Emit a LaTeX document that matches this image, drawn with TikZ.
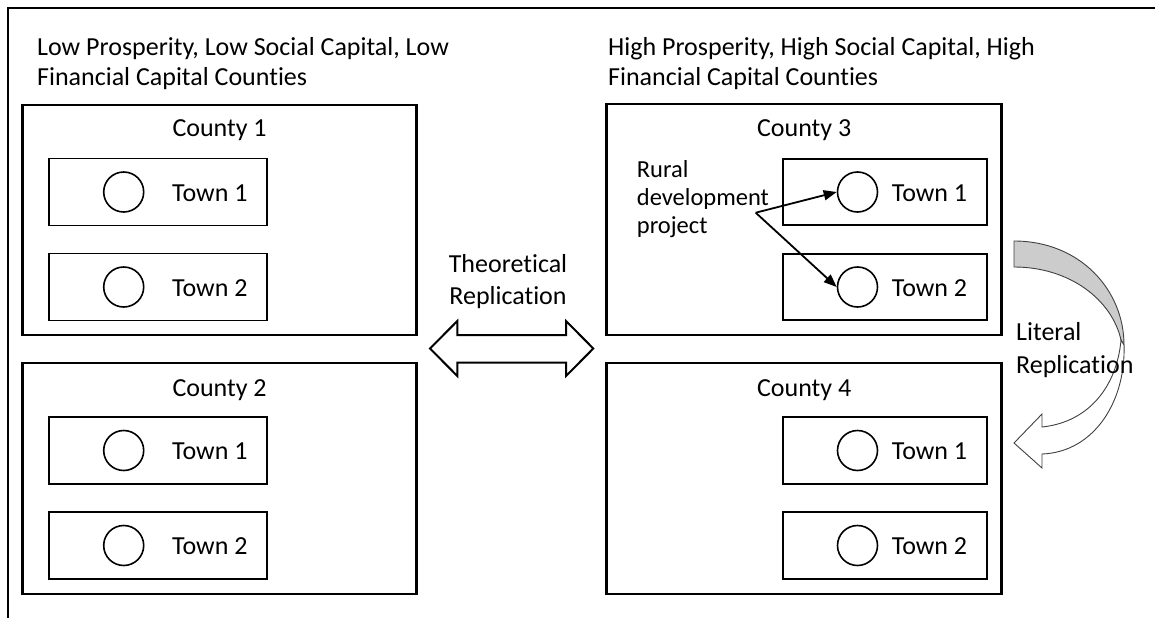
\documentclass[tikz,border=0pt]{standalone}
\usepackage{fontspec}
\setmainfont{Carlito}[Ligatures={NoCommon}]
\usetikzlibrary{arrows.meta}
% multi-line text blocks whose base is the first line's baseline
\newcommand{\tlines}[1]{\begin{tabular}[t]{@{}l@{}}#1\end{tabular}}
\newcommand{\clines}[1]{\begin{tabular}[t]{@{}c@{}}#1\end{tabular}}
\begin{document}
\begin{tikzpicture}[x=1pt,y=-1pt,
  txt/.style={inner sep=0pt, font=\fontsize{26}{30}\selectfont},
  county/.style={draw, line width=2.6pt, minimum width=394pt, inner sep=0pt},
  townbox/.style={draw, line width=1.8pt, inner sep=0pt},
  spot/.style={draw, circle, line width=1.6pt, minimum size=40pt, inner sep=0pt},
  conn/.style={line width=1.8pt, -{Triangle[length=13pt,width=10pt]}},
  bigarrow/.style={line width=2pt, fill=white, line join=miter},
  curl/.style={line width=0.9pt, draw=black!75}
]
\useasboundingbox (0,0) rectangle (1155,618);

% outer frame (top and left sides)
\draw[line width=2pt] (1155,8) -- (8,8) -- (8,618);

% group headings
\node[txt, anchor=base west] (lowhead) at (37,56)
  {\tlines{Low Prosperity, Low Social Capital, Low\\Financial Capital Counties}};
\node[txt, anchor=base west] (highhead) at (608,56)
  {\tlines{High Prosperity, High Social Capital, High\\Financial Capital Counties}};

% ---- County 1
\node[county, minimum height=230pt] (c1) at (219.6,220) {};
\node[txt, anchor=base] (c1l) at (219.6,136.7) {County 1};
\node[townbox, minimum width=218pt, minimum height=67pt] (c1t1) at (158,192) {};
\node[spot] (c1s1) at (123.7,192) {};
\node[txt, anchor=base west] (c1n1) at (172,201) {Town 1};
\node[townbox, minimum width=218pt, minimum height=67pt] (c1t2) at (158,287) {};
\node[spot] (c1s2) at (123.7,287) {};
\node[txt, anchor=base west] (c1n2) at (172,296) {Town 2};

% ---- County 2
\node[county, minimum height=231pt] (c2) at (219.6,478.4) {};
\node[txt, anchor=base] (c2l) at (219.6,396) {County 2};
\node[townbox, minimum width=218pt, minimum height=67pt] (c2t1) at (158,450.5) {};
\node[spot] (c2s1) at (123.7,450.5) {};
\node[txt, anchor=base west] (c2n1) at (172,459.5) {Town 1};
\node[townbox, minimum width=218pt, minimum height=67pt] (c2t2) at (158,545.5) {};
\node[spot] (c2s2) at (123.7,545.5) {};
\node[txt, anchor=base west] (c2n2) at (172,554.5) {Town 2};

% ---- County 3
\node[county, minimum width=395pt, minimum height=231pt] (c3) at (804.2,219.5) {};
\node[txt, anchor=base] (c3l) at (804.2,136.7) {County 3};
\node[townbox, minimum width=204pt, minimum height=66pt] (c3t1) at (884.8,192) {};
\node[spot] (c3s1) at (857.5,192) {};
\node[txt, anchor=base west] (c3n1) at (891.7,201) {Town 1};
\node[townbox, minimum width=204pt, minimum height=66pt] (c3t2) at (884.8,287) {};
\node[spot] (c3s2) at (857.5,287) {};
\node[txt, anchor=base west] (c3n2) at (891.7,296) {Town 2};

\node[txt, font=\fontsize{24.5}{28}\selectfont, anchor=base west] (rdp) at (636.7,177.3)
  {\tlines{Rural\\development\\project}};
\coordinate (fork) at (755.7,212.7);
\draw[conn] (fork) -- (c3s1.west);
\draw[conn] (fork) -- (c3s2.west);

% ---- County 4
\node[county, minimum width=395pt, minimum height=231pt] (c4) at (804.2,478.4) {};
\node[txt, anchor=base] (c4l) at (804.2,396) {County 4};
\node[townbox, minimum width=204pt, minimum height=67pt] (c4t1) at (884.8,450.5) {};
\node[spot] (c4s1) at (857.5,450.5) {};
\node[txt, anchor=base west] (c4n1) at (891.7,459.5) {Town 1};
\node[townbox, minimum width=204pt, minimum height=67pt] (c4t2) at (884.8,545.5) {};
\node[spot] (c4s2) at (857.5,545.5) {};
\node[txt, anchor=base west] (c4n2) at (891.7,554.5) {Town 2};

% theoretical replication: two-headed block arrow
\node[txt, font=\fontsize{26}{32}\selectfont, anchor=base] (theo) at (508,272)
  {\clines{Theoretical\\Replication}};
\draw[bigarrow] (430,348.5) -- (457.3,321) -- (457.3,335) -- (566,335) -- (566,321)
  -- (593.3,348.5) -- (566,376) -- (566,362.7) -- (457.3,362.7) -- (457.3,376) -- cycle;

% literal replication: curved block arrow, shaded back and white front
\draw[curl, fill=black!20] (1014,241) .. controls (1080,241) and (1124,290) .. (1124,345)
  -- (1121,340) .. controls (1112,300) and (1070,267) .. (1014,267) -- cycle;
\draw[curl, fill=white] (1124,345) .. controls (1126,400) and (1095,452) .. (1042,454)
  -- (1042,468) -- (1014,443) -- (1042,414) -- (1042,427)
  .. controls (1090,422) and (1117,385) .. (1121,340) -- cycle;
\node[txt, font=\fontsize{26}{32.6}\selectfont, anchor=base west] (lit) at (1016,340.7)
  {\tlines{Literal\\Replication}};
\end{tikzpicture}
\end{document}
